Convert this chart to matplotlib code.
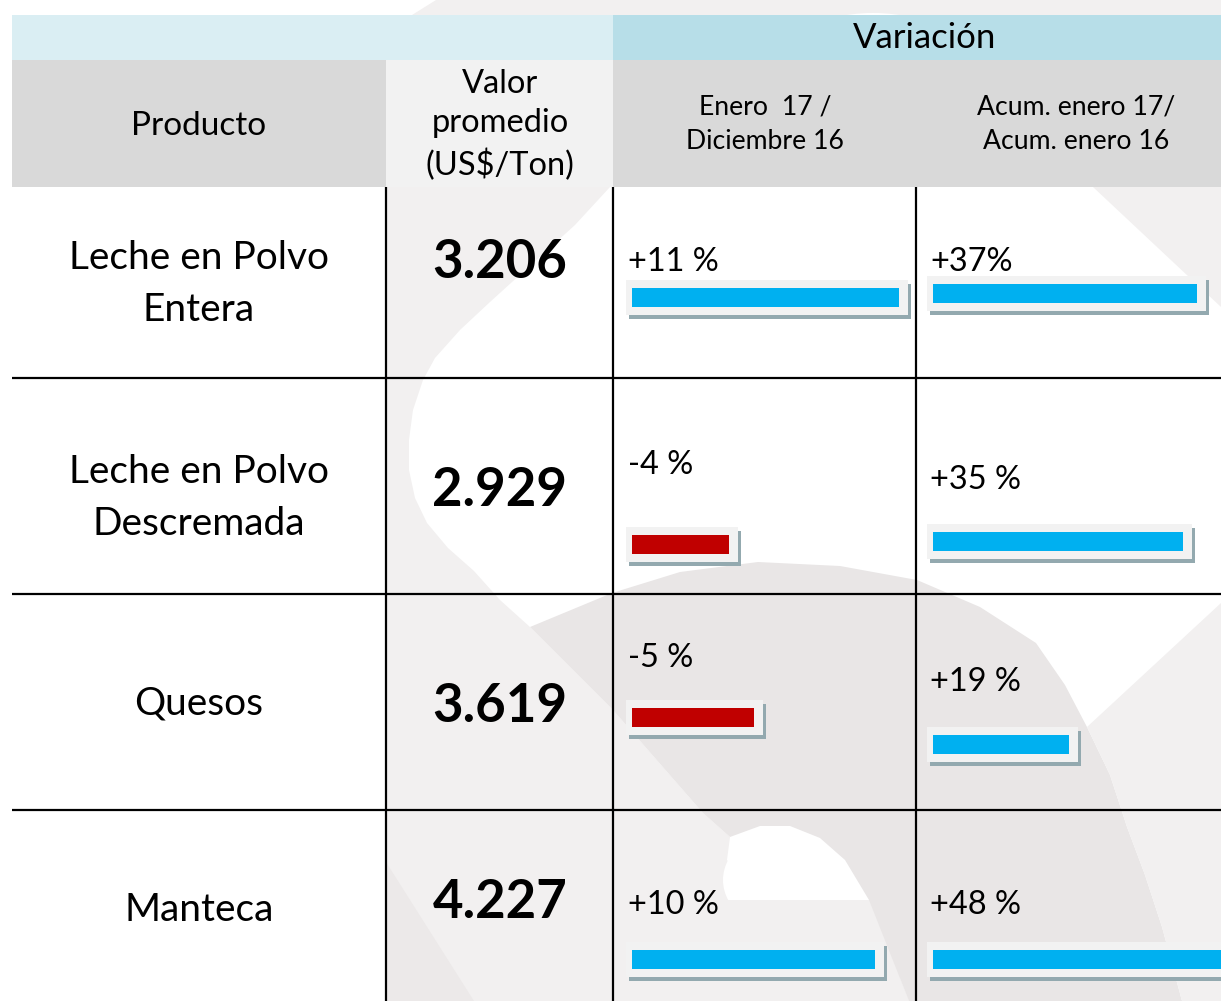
import matplotlib
matplotlib.use("Agg")
import matplotlib.pyplot as plt
from matplotlib.patches import Rectangle, Polygon, Ellipse

# ---------------- data ----------------
productos = ["Leche en Polvo\nEntera", "Leche en Polvo\nDescremada", "Quesos", "Manteca"]
valor_promedio = [3206, 2929, 3619, 4227]
var_mensual = [11, -4, -5, 10]
var_acumulada = [37, 35, 19, 48]
lab_mensual = ["+11 %", "-4 %", "-5 %", "+10 %"]
lab_acumulada = ["+37%", "+35 %", "+19 %", "+48 %"]
encabezado_grupo = "Variación"
encabezados = ["Producto", "Valor\npromedio\n(US$/Ton)", "Enero  17 /\nDiciembre 16",
               "Acum. enero 17/\nAcum. enero 16"]

# ---------------- layout (pixels) ----------------
W, H = 1221, 1001
FONT = "Lato"
row_edges = [187, 378, 594, 810, 1001]
col_x = [12, 386, 613, 916, 1221]
prod_y = [284, 498, 704, 910]
val_y = [262, 490, 706, 903]
txt_y_m = [262, 465, 658, 905]
bar_y_m = [297, 544, 717, 959]
txt_y_a = [262, 480, 682, 905]
bar_y_a = [293, 541, 744, 959]
start_m, start_a = 632, 933
scale_m, scale_a = 24.3, 7.14
bar_h = 19

fig = plt.figure(figsize=(W / 100, H / 100), dpi=100)
ax = fig.add_axes([0, 0, 1, 1])
ax.set_xlim(0, W)
ax.set_ylim(H, 0)
ax.axis("off")

# ---------------- faint watermark (background decoration) ----------------
light = "#f2f0f0"
band = "#e9e6e6"
def poly(pts, c, z=0):
    ax.add_patch(Polygon(pts, closed=True, fc=c, ec="none", zorder=z))

# top strip
poly([[412, 15], [436, 0], [W, 0], [W, 15]], light)
ax.add_patch(Ellipse((873, 30), 110, 34, fc="white", ec="none", zorder=0.1))
# valor column, upper-left lobe
poly([[386, 187], [610, 187], [575, 225], [533, 263], [490, 302], [460, 330], [435, 358],
      [423, 380], [413, 410], [409, 440], [409, 470], [415, 498], [427, 523], [448, 548],
      [474, 571], [500, 600], [530, 627], [386, 627]], light)
# lower light area
poly([[386, 627], [530, 627], [613, 710], [703, 813], [730, 837], [727, 860], [745, 885],
      [790, 900], [869, 900], [909, 1001], [386, 1001]], light)
# white blob in row 4
ax.add_patch(Ellipse((798, 880), 150, 110, fc="white", ec="none", zorder=0.2))
poly([[700, 900], [900, 900], [900, 1001], [700, 1001]], light, 0.3)
poly([[869, 900], [909, 1001], [860, 1001], [830, 900]], light, 0.3)
# big band
poly([[530, 627], [612, 593], [680, 572], [758, 562], [840, 566], [917, 580], [980, 607],
      [1036, 643], [1065, 685], [1087, 727], [1110, 775], [1127, 827], [1145, 875],
      [1162, 927], [1182, 1001], [909, 1001], [869, 900], [845, 860], [820, 838],
      [790, 826], [760, 826], [730, 837], [703, 813], [613, 710]], band, 0.5)
# right light area beyond the V
poly([[1087, 727], [1221, 603], [W, 1001], [1182, 1001], [1162, 927], [1145, 875],
      [1127, 827], [1110, 775]], light, 0.5)
# darker triangle bottom of valor column
poly([[386, 862], [474, 1001], [386, 1001]], "#ece9e9", 0.6)
# upper right light triangle
poly([[1093, 187], [W, 187], [W, 307]], light)

# ---------------- header ----------------
ax.add_patch(Rectangle((12, 15), 601, 45, fc="#daeef3", ec="none", zorder=1))
ax.add_patch(Rectangle((613, 15), W - 613, 45, fc="#b7dee8", ec="none", zorder=1))
ax.add_patch(Rectangle((12, 60), 374, 127, fc="#d9d9d9", ec="none", zorder=1))
ax.add_patch(Rectangle((386, 60), 227, 127, fc="#f2f2f2", ec="none", zorder=1))
ax.add_patch(Rectangle((613, 60), W - 613, 127, fc="#d9d9d9", ec="none", zorder=1))

ax.text(925, 38, encabezado_grupo, ha="center", va="center", fontsize=25, family=FONT, zorder=3)
ax.text(199, 126, encabezados[0], ha="center", va="center", fontsize=24, family=FONT, zorder=3)
ax.text(500, 125, encabezados[1], ha="center", va="center", fontsize=23.5, family=FONT,
        linespacing=1.38, zorder=3)
ax.text(765, 124, encabezados[2], ha="center", va="center", fontsize=19.2, family=FONT,
        linespacing=1.5, zorder=3)
ax.text(1076, 124, encabezados[3], ha="center", va="center", fontsize=19.2, family=FONT,
        linespacing=1.5, zorder=3)

# ---------------- grid lines ----------------
for x in col_x[1:4]:
    ax.plot([x, x], [187, H], color="black", lw=1.6, zorder=4, solid_capstyle="butt")
for y in row_edges[1:4]:
    ax.plot([12, W], [y, y], color="black", lw=1.6, zorder=4, solid_capstyle="butt")

# ---------------- body text ----------------
for i in range(4):
    ax.text(199, prod_y[i], productos[i], ha="center", va="center", fontsize=28, family=FONT,
            linespacing=1.55, zorder=3)
    ax.text(500, val_y[i], f"{valor_promedio[i]:,}".replace(",", "."), ha="center", va="center",
            fontsize=38, family=FONT, fontweight="bold", zorder=3)
    ax.text(628, txt_y_m[i], lab_mensual[i], ha="left", va="center", fontsize=23.4, family=FONT, zorder=3)
    ax.text(930, txt_y_a[i], lab_acumulada[i], ha="left", va="center", fontsize=23.4, family=FONT, zorder=3)


# ---------------- bars ----------------
def draw_bars(values, ys, start, scale):
    widths = [abs(v) * scale for v in values]
    colors = ["#00b0f0" if v >= 0 else "#c00000" for v in values]
    lefts = [start - 6] * len(values)
    fw = [w + 15 for w in widths]
    # shadow
    ax.barh([y + 4 for y in ys], fw, left=[l + 3 for l in lefts], height=bar_h + 16,
            color="#93a9af", zorder=5)
    # frame
    ax.barh(ys, fw, left=lefts, height=bar_h + 16, color="#f2f2f2", zorder=6)
    # bar
    ax.barh(ys, widths, left=start, height=bar_h, color=colors, zorder=7)


draw_bars(var_mensual, bar_y_m, start_m, scale_m)
draw_bars(var_acumulada, bar_y_a, start_a, scale_a)

fig.savefig("out.png", dpi=100)
